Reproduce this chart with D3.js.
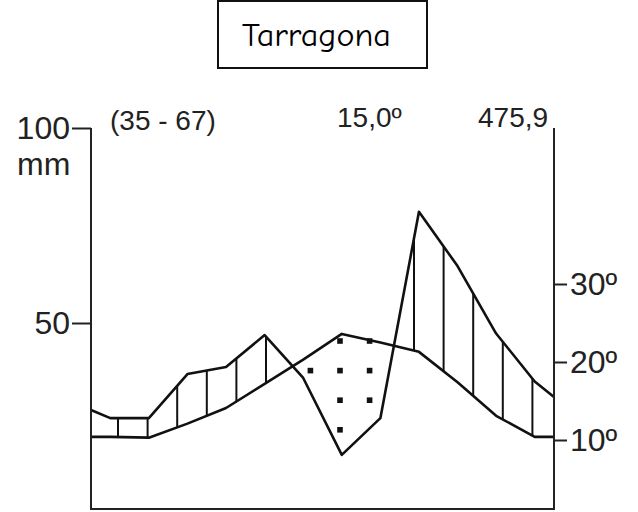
<!DOCTYPE html>
<html>
<head>
<meta charset="utf-8">
<script src="https://cdn.jsdelivr.net/npm/d3@7"></script>
<style>
  body { margin: 0; background: #fff; }
  svg { display: block; }
  .lbl { font-family: "Liberation Sans", Arial, sans-serif; fill: #222; }
</style>
</head>
<body>
<div id="container"><svg></svg></div>
<script>
let width = 638;
let height = 512;

// climate data (month centres, Jan..Dec)
let months = ['E', 'F', 'M', 'A', 'M', 'J', 'J', 'A', 'S', 'O', 'N', 'D'];
let precip = [25.6, 25.6, 36.9, 38.7, 46.9, 35.9, 16.2, 25.6, 78.5, 64.6, 47.3, 35.0];
let temp = [10.4, 10.3, 12.1, 14.1, 17.2, 20.3, 23.6, 22.5, 21.3, 17.4, 13.1, 10.4];
// values where the lines meet the side axes
let precipEdges = [27.7, 31.0];
let tempEdges = [10.4, 10.4];

let station = 'Tarragona';
let headerLabels = ['(35 - 67)', '15,0º', '475,9'];
let precipTicks = [50, 100];
let tempTicks = [10, 20, 30];

function series(vals, edges) {
    let pts = [[0, edges[0]]];
    for (var i = 0; i < vals.length; ++i) {
        pts.push([i + 0.5, vals[i]]);
    }
    pts.push([12, edges[1]]);
    return pts;
}

function interp(pts, m) {
    for (var i = 1; i < pts.length; ++i) {
        if (m <= pts[i][0]) {
            let t = (m - pts[i-1][0]) / (pts[i][0] - pts[i-1][0]);
            return pts[i-1][1] + t * (pts[i][1] - pts[i-1][1]);
        }
    }
    return pts[pts.length - 1][1];
}

function draw() {
    let svg = d3.select('#container').select('svg')
        .attr('width', width)
        .attr('height', height);

    let x = d3.scaleLinear().domain([0, 12]).range([91, 554]);
    let y = d3.scaleLinear().domain([0, 100]).range([518, 128]);      // mm
    let yT = d3.scaleLinear().domain([0, 50]).range([518, 128]);      // ºC (2 mm = 1 ºC)
    let bottom = 509;

    let pPts = series(precip, precipEdges);
    let tPts = series(temp, tempEdges);

    // vertical hatching where rain is above temperature (humid period)
    let step = 29.6;
    let hatch = [];
    for (var hx = 118; hx < 554; hx += step) {
        let m = x.invert(hx);
        let py = y(interp(pPts, m));
        let ty = yT(interp(tPts, m));
        if (py < ty) hatch.push([hx, py, ty]);
    }
    svg.append('g').selectAll('line')
        .data(hatch)
        .enter()
        .append('line')
        .attr('x1', d => d[0]).attr('x2', d => d[0])
        .attr('y1', d => d[1]).attr('y2', d => d[2])
        .attr('stroke', '#111')
        .attr('stroke-width', 2);

    // dots where rain is below temperature (dry period)
    let dots = [];
    for (var dx = 118 + step / 2; dx < 554; dx += step) {
        for (var dy = 341 - step * 3; dy < bottom; dy += step) {
            let m = x.invert(dx);
            let py = y(interp(pPts, m));
            let ty = yT(interp(tPts, m));
            if (dy > ty && dy < py) dots.push([dx, dy]);
        }
    }
    svg.append('g').selectAll('rect')
        .data(dots)
        .enter()
        .append('rect')
        .attr('x', d => d[0] - 2.8)
        .attr('y', d => d[1] - 2.8)
        .attr('width', 5.6)
        .attr('height', 5.6)
        .attr('fill', '#111');

    // curves
    let lineP = d3.line().x(d => x(d[0])).y(d => y(d[1]));
    let lineT = d3.line().x(d => x(d[0])).y(d => yT(d[1]));
    svg.append('path')
        .attr('d', lineT(tPts))
        .attr('fill', 'none')
        .attr('stroke', '#111')
        .attr('stroke-width', 2.6)
        .attr('stroke-linejoin', 'round');
    svg.append('path')
        .attr('d', lineP(pPts))
        .attr('fill', 'none')
        .attr('stroke', '#111')
        .attr('stroke-width', 2.6)
        .attr('stroke-linejoin', 'round');

    // frame
    svg.append('path')
        .attr('d', `M${x(0)},${y(100)}V${bottom}H${x(12)}V${y(100)}`)
        .attr('fill', 'none')
        .attr('stroke', '#222')
        .attr('stroke-width', 2);

    // left axis (mm)
    let gl = svg.append('g')
        .attr('transform', `translate(${x(0)},0)`)
        .call(d3.axisLeft(y).tickValues(precipTicks).tickSize(19).tickPadding(2));
    gl.select('.domain').remove();
    gl.selectAll('.tick line').attr('stroke', '#222').attr('stroke-width', 2);
    gl.selectAll('.tick text')
        .attr('class', 'lbl')
        .style('font-size', '32px')
        .attr('fill', '#222');
    svg.append('text')
        .attr('class', 'lbl')
        .attr('x', 17)
        .attr('y', 175)
        .style('font-size', '32px')
        .text('mm');

    // right axis (ºC)
    let gr = svg.append('g')
        .attr('transform', `translate(${x(12)},0)`)
        .call(d3.axisRight(yT).tickValues(tempTicks).tickSize(13).tickPadding(3)
            .tickFormat(d => d + 'º'));
    gr.select('.domain').remove();
    gr.selectAll('.tick line').attr('stroke', '#222').attr('stroke-width', 2);
    gr.selectAll('.tick text')
        .attr('class', 'lbl')
        .style('font-size', '32px')
        .attr('fill', '#222');

    // header values: years, mean temperature, annual rain
    let hx0 = [110, 337, 478];
    let hy0 = [130, 127, 127];
    svg.append('g').selectAll('text')
        .data(headerLabels)
        .enter()
        .append('text')
        .attr('class', 'lbl')
        .attr('x', (d, i) => hx0[i])
        .attr('y', (d, i) => hy0[i])
        .style('font-size', '28px')
        .text(d => d);

    // title box
    svg.append('rect')
        .attr('x', 218).attr('y', 1)
        .attr('width', 209).attr('height', 67)
        .attr('fill', 'none')
        .attr('stroke', '#111')
        .attr('stroke-width', 2);
    svg.append('text')
        .attr('x', 242)
        .attr('y', 46)
        .attr('textLength', 149)
        .attr('lengthAdjust', 'spacingAndGlyphs')
        .style('font-family', '"Comic Sans MS", "Comic Neue", "DejaVu Sans", sans-serif')
        .style('font-size', '32px')
        .attr('fill', '#000')
        .text(station);
}

draw();
</script>
</body>
</html>
